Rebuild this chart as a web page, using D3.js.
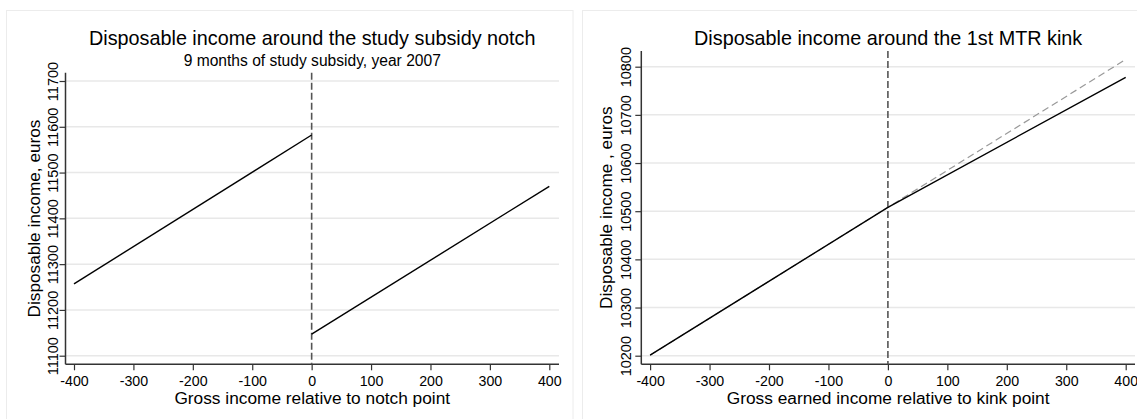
<!DOCTYPE html>
<html>
<head>
<meta charset="utf-8">
<script src="https://cdn.jsdelivr.net/npm/d3@7"></script>
<style>
  html, body { margin: 0; padding: 0; background: #fff; }
  svg text { font-family: Arial, "Liberation Sans", sans-serif; fill: #000; }
</style>
</head>
<body>
<svg id="chart" width="1137" height="419"></svg>
<script>
// ---- data ----
// Notch panel: disposable income on each side of the study subsidy notch
const notchTicksX = [-400, -300, -200, -100, 0, 100, 200, 300, 400];
const notchTicksY = [11100, 11200, 11300, 11400, 11500, 11600, 11700];
const notchBelowX = [-400, 0];
const notchBelowY = [11257, 11582];
const notchAboveX = [0, 400];
const notchAboveY = [11147, 11470];

// Kink panel: disposable income around the 1st MTR kink
const kinkTicksX = [-400, -300, -200, -100, 0, 100, 200, 300, 400];
const kinkTicksY = [10200, 10300, 10400, 10500, 10600, 10700, 10800];
const kinkX = [-400, 0, 400];
const kinkActual = [10201, 10508, 10778];
const kinkNoKink = [10201, 10508, 10815];

const svg = d3.select("#chart");
const plain = d => String(d);   // plain integers, ASCII hyphen for negatives

// panel frames
svg.append("rect").attr("x", 6.5).attr("y", 10.5).attr("width", 566.5).attr("height", 420)
  .attr("fill", "none").attr("stroke", "#ececec");
svg.append("rect").attr("x", 582.5).attr("y", 10.5).attr("width", 570).attr("height", 420)
  .attr("fill", "none").attr("stroke", "#ececec");

function panel(cfg) {
  const g = svg.append("g");
  const x = d3.scaleLinear().domain([-400, 400]).range(cfg.xRange);
  const y = d3.scaleLinear().domain(cfg.yDomain).range(cfg.yRange);
  const b = cfg.box;

  // gridlines
  g.selectAll("line.grid").data(cfg.ticksY).join("line")
    .attr("x1", b.x0).attr("x2", b.x1)
    .attr("y1", d => y(d)).attr("y2", d => y(d))
    .attr("stroke", "#e8e8e8").attr("stroke-width", 1.5);

  // x axis
  const xAxis = g.append("g").attr("transform", `translate(0,${b.y1})`)
    .call(d3.axisBottom(x).tickValues(cfg.ticksX).tickFormat(plain).tickSize(6).tickSizeOuter(0));
  xAxis.select(".domain").remove();
  xAxis.selectAll(".tick line").attr("stroke", "#333").attr("stroke-width", 1.2);
  xAxis.selectAll(".tick text").attr("font-size", 14.2).attr("dy", null).attr("y", 21.8)
    .style("font-family", "Arial, 'Liberation Sans', sans-serif");

  // y axis with rotated labels
  const yAxis = g.append("g").attr("transform", `translate(${b.x0},0)`)
    .call(d3.axisLeft(y).tickValues(cfg.ticksY).tickFormat(plain).tickSize(6).tickSizeOuter(0));
  yAxis.select(".domain").remove();
  yAxis.selectAll(".tick line").attr("stroke", "#333").attr("stroke-width", 1.2);
  yAxis.selectAll(".tick text")
    .attr("x", null).attr("dy", null)
    .attr("text-anchor", "middle")
    .attr("font-size", 14.5)
    .attr("transform", `translate(${cfg.yLabelBase - b.x0},0) rotate(-90)`)
    .style("font-family", "Arial, 'Liberation Sans', sans-serif");

  // axis lines
  g.append("line").attr("x1", b.x0).attr("x2", b.x1).attr("y1", b.y1).attr("y2", b.y1)
    .attr("stroke", "#333").attr("stroke-width", 1.5);
  g.append("line").attr("x1", b.x0).attr("x2", b.x0).attr("y1", b.y0).attr("y2", b.y1)
    .attr("stroke", "#333").attr("stroke-width", 1.5);

  // threshold marker at zero
  g.append("line").attr("x1", x(0)).attr("x2", x(0)).attr("y1", b.y0).attr("y2", b.y1)
    .attr("stroke", "#555").attr("stroke-width", 1.6).attr("stroke-dasharray", "7,3");

  const line = d3.line().x(d => x(d[0])).y(d => y(d[1]));
  cfg.series.forEach(s => {
    g.append("path").datum(d3.zip(s.xs, s.ys)).attr("d", line)
      .attr("fill", "none").attr("stroke", s.color).attr("stroke-width", s.width)
      .attr("stroke-dasharray", s.dash || null);
  });

  const cx = (b.x0 + b.x1) / 2;
  g.append("text").attr("x", cx).attr("y", 45).attr("text-anchor", "middle")
    .attr("font-size", 19.8).text(cfg.title);
  if (cfg.subtitle) {
    g.append("text").attr("x", cx).attr("y", 66).attr("text-anchor", "middle")
      .attr("font-size", 15.6).text(cfg.subtitle);
  }
  g.append("text").attr("x", cx).attr("y", 404).attr("text-anchor", "middle")
    .attr("font-size", 17.3).text(cfg.xTitle);
  g.append("text").attr("text-anchor", "middle").attr("font-size", 17.2)
    .attr("transform", `translate(${cfg.yTitleBase},${(b.y0 + b.y1) / 2}) rotate(-90)`)
    .text(cfg.yTitle);
}

panel({
  box: { x0: 65.5, x1: 559, y0: 72.7, y1: 364.3 },
  xRange: [74, 549.3],
  yDomain: [11100, 11700], yRange: [355.7, 81],
  ticksX: notchTicksX, ticksY: notchTicksY,
  yLabelBase: 57.5, yTitleBase: 40,
  title: "Disposable income around the study subsidy notch",
  subtitle: "9 months of study subsidy, year 2007",
  xTitle: "Gross income relative to notch point",
  yTitle: "Disposable income, euros",
  series: [
    { xs: notchBelowX, ys: notchBelowY, color: "#000", width: 1.4 },
    { xs: notchAboveX, ys: notchAboveY, color: "#000", width: 1.4 }
  ]
});

panel({
  box: { x0: 641.3, x1: 1135, y0: 51, y1: 364.3 },
  xRange: [650.1, 1125.7],
  yDomain: [10200, 10800], yRange: [355.7, 66.7],
  ticksX: kinkTicksX, ticksY: kinkTicksY,
  yLabelBase: 630.5, yTitleBase: 612,
  title: "Disposable income around the 1st MTR kink",
  xTitle: "Gross earned income relative to kink point",
  yTitle: "Disposable income , euros",
  series: [
    { xs: kinkX, ys: kinkNoKink, color: "#999", width: 1.2, dash: "7,4" },
    { xs: kinkX, ys: kinkActual, color: "#000", width: 1.4 }
  ]
});
</script>
</body>
</html>
